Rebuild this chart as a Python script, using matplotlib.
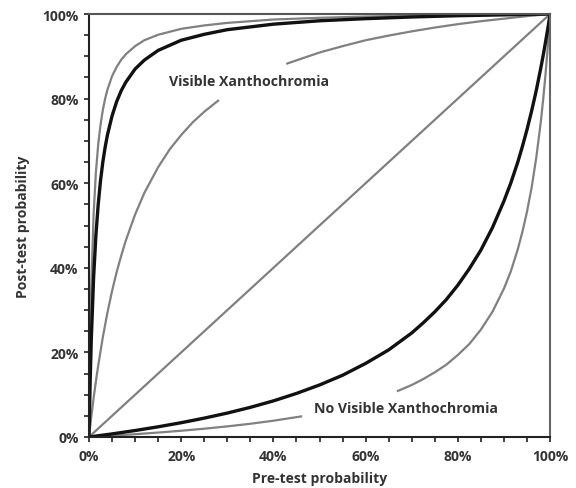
import numpy as np
import matplotlib
matplotlib.use('Agg')
import matplotlib.pyplot as plt
from matplotlib.ticker import MultipleLocator, FuncFormatter

# Post-test vs pre-test probability (%).
# nan marks the gap where a curve is broken for its label.

# Visible xanthochromia: point estimate (black) and the two limits (grey)
pre_vis = [0, 0.25, 0.5, 1, 1.5, 2, 2.5, 3, 3.5, 4, 5, 6, 7, 8, 10, 12, 15, 20, 25, 30, 40, 50, 60, 70, 80, 90, 100]
post_vis_hi = [0, 21.6, 35.6, 52.6, 62.6, 69.2, 73.8, 77.3, 80.0, 82.1, 85.3, 87.5, 89.2, 90.5, 92.4, 93.8,
               95.1, 96.5, 97.3, 97.9, 98.7, 99.1, 99.4, 99.6, 99.8, 99.9, 100]
post_vis = [0, 13.1, 23.2, 37.7, 47.7, 55.0, 60.6, 65.0, 68.5, 71.4, 75.9, 79.3, 81.9, 83.9, 87.0, 89.1,
            91.4, 93.8, 95.2, 96.3, 97.6, 98.4, 98.9, 99.3, 99.6, 99.8, 100]

pre_vis_lo = [0, 0.5, 1, 1.5, 2, 3, 4, 5, 6, 7, 8, 10, 12, 15, 17.5, 20, 22.5, 25, 28, np.nan,
              43, 50, 55, 60, 65, 70, 75, 80, 85, 90, 95, 100]
post_vis_lo = [0, 4.8, 9.2, 13.2, 16.9, 23.6, 29.4, 34.5, 39.0, 42.9, 46.5, 52.6, 57.7, 63.8, 68.0, 71.4,
               74.4, 76.9, 79.5, np.nan, 88.3, 90.9, 92.4, 93.8, 94.9, 95.9, 96.8, 97.6, 98.3, 98.9, 99.5, 100]

# No visible xanthochromia: point estimate (black) and lower limit (grey)
pre_novis = [0, 5, 10, 15, 20, 25, 30, 35, 40, 45, 50, 55, 60, 65, 70, 72.5, 75, 77.5, 80, 82.5, 85,
             87.5, 90, 91.5, 93, 94, 95, 96, 97, 98, 98.5, 99, 99.5, 100]
post_novis = [0, 0.73, 1.53, 2.41, 3.38, 4.46, 5.66, 7.01, 8.54, 10.3, 12.3, 14.6, 17.4, 20.6, 24.6, 27.0,
              29.6, 32.5, 35.9, 39.8, 44.2, 49.5, 55.8, 60.1, 65.0, 68.7, 72.7, 77.1, 81.9, 87.3, 90.2,
              93.3, 96.5, 100]

pre_novis_lo = [0, 5, 10, 15, 20, 25, 30, 35, 40, 46, np.nan, 67, 70, 72.5, 75, 77.5, 80, 82.5, 85, 87.5,
                90, 91.5, 93, 94, 95, 96, 97, 98, 98.5, 99, 99.5, 100]
post_novis_lo = [0, 0.31, 0.66, 1.05, 1.48, 1.96, 2.51, 3.13, 3.85, 4.86, np.nan, 10.9, 12.3, 13.7, 15.3,
                 17.1, 19.4, 22.0, 25.4, 29.6, 35.1, 39.2, 44.4, 48.5, 53.3, 59.0, 66.0, 74.6, 79.8, 85.6,
                 92.3, 100]

# no-information diagonal
pre_diag = [0, 100]
post_diag = [0, 100]

font = 'Open Sans'
txt_col = '#333333'
grey = '#808080'

fig = plt.figure(figsize=(5.76, 4.89), dpi=100)
ax = fig.add_axes([0.1545, 0.1043, 0.8005, 0.865])

ax.plot(pre_diag, post_diag, color=grey, lw=1.6)
ax.plot(pre_vis, post_vis_hi, color=grey, lw=1.6)
ax.plot(pre_vis_lo, post_vis_lo, color=grey, lw=1.6)
ax.plot(pre_novis_lo, post_novis_lo, color=grey, lw=1.6)
ax.plot(pre_vis, post_vis, color='#111111', lw=2.4)
ax.plot(pre_novis, post_novis, color='#111111', lw=2.4)

ax.text(34.7, 84.2, 'Visible Xanthochromia', ha='center', va='center',
        fontsize=10.2, fontweight='bold', family=font, color=txt_col)
ax.text(68.8, 6.9, 'No Visible Xanthochromia', ha='center', va='center',
        fontsize=10.2, fontweight='bold', family=font, color=txt_col)

ax.set_xlim(0, 100)
ax.set_ylim(0, 100)
pct = FuncFormatter(lambda v, p: f'{v:.0f}%')
for axis in (ax.xaxis, ax.yaxis):
    axis.set_major_locator(MultipleLocator(20))
    axis.set_minor_locator(MultipleLocator(5))
    axis.set_major_formatter(pct)
ax.tick_params(which='both', direction='out', length=3.5, width=1.2, color='#222222')
ax.tick_params(axis='x', pad=5)
ax.tick_params(axis='y', pad=4)
for lab in ax.get_xticklabels() + ax.get_yticklabels():
    lab.set_family(font)
    lab.set_fontweight('bold')
    lab.set_fontsize(10)
    lab.set_color(txt_col)

ax.spines['left'].set_color('#222222')
ax.spines['bottom'].set_color('#222222')
ax.spines['top'].set_color('#555555')
ax.spines['right'].set_color('#666666')
for s in ax.spines.values():
    s.set_linewidth(1.5)

ax.set_xlabel('Pre-test probability', family=font, fontweight='bold',
              fontsize=10, color=txt_col, labelpad=6)
ax.set_ylabel('Post-test probability', family=font, fontweight='bold',
              fontsize=10, color=txt_col, labelpad=9)

fig.savefig('out.png', dpi=100)
